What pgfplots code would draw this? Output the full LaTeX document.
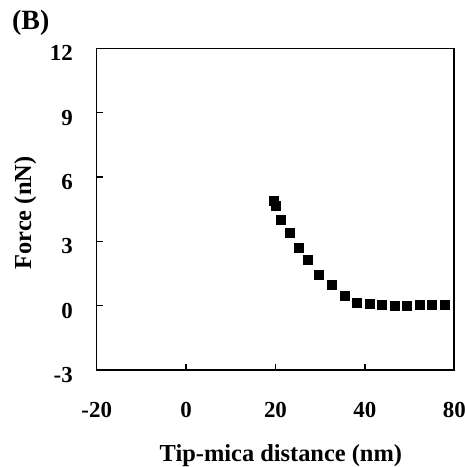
\documentclass[border=0pt]{standalone}
\usepackage{fontspec}
\setmainfont{Liberation Serif}
\usepackage{pgfplots}
\pgfplotsset{compat=1.18}

\begin{document}
\begin{tikzpicture}[font=\fontsize{23}{27}\selectfont\bfseries]
% page box: 465 x 467 bp, axis box lower left at (0,0)
\path[use as bounding box] (-96.7bp,-97bp) rectangle (368.3bp,370bp);
\begin{axis}[at={(0,0)},anchor=south west,scale only axis,
  width=357.6bp,height=321.7bp,
  xmin=-20,xmax=60,ymin=-3,ymax=12,
  xtick={-20,0,20,40,60},xticklabels={-20,0,20,40,80},
  ytick={-3,0,3,6,9,12},yticklabels={-3,0,3,6,9,12},
  tick pos=left,tick align=inside,major tick length=6bp,
  axis line style={line width=1.6bp},
  every tick/.style={line width=1.4bp,black},
  xticklabel style={anchor=base,inner sep=0pt,yshift=-47bp},
  yticklabel style={anchor=east,inner sep=0pt,xshift=-23.7bp,yshift=-5bp},
  xlabel={Tip-mica distance (nm)},
  ylabel={Force (nN)},
  xlabel style={at={(axis description cs:0.515,0)},anchor=base,inner sep=0pt,yshift=-91bp,font=\fontsize{24.5}{28}\selectfont\bfseries},
  ylabel style={at={(axis description cs:-0.2,0.488)},anchor=center,inner sep=0pt,font=\fontsize{24.5}{28}\selectfont\bfseries},
  clip=false]
\addplot[only marks,mark=square*,mark size=4.5bp,black] coordinates {
  (19.5,4.91) (20.0,4.68) (21.1,4.03) (23.1,3.38) (25.1,2.68) (27.1,2.12)
  (29.6,1.46) (32.5,1.00) (35.4,0.45) (38.2,0.16) (41.0,0.11) (43.7,0.06)
  (46.7,0.02) (49.4,0.02) (52.2,0.06) (54.9,0.06) (57.8,0.06)};
\node[anchor=north west,inner sep=0pt,font=\fontsize{28}{32}\selectfont\bfseries]
  at (rel axis cs:-0.237,1.119) {(B)};
\end{axis}
\end{tikzpicture}
\end{document}
